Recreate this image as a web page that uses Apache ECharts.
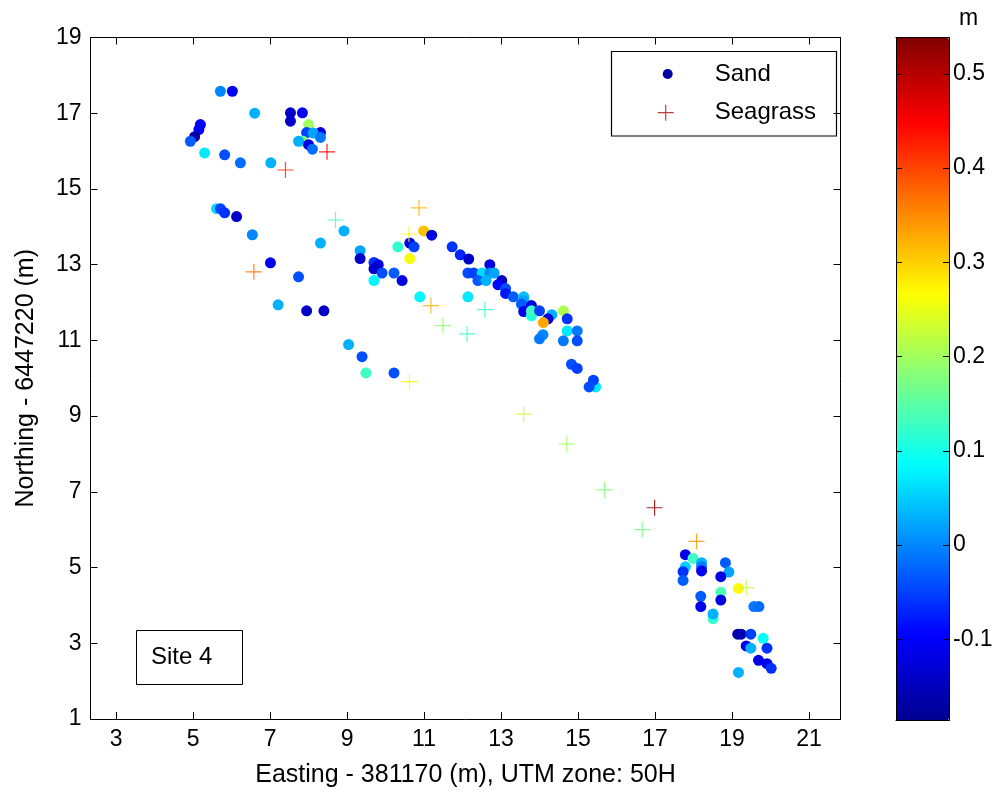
<!DOCTYPE html>
<html>
<head>
<meta charset="utf-8">
<title>Site 4</title>
<script src="https://cdn.jsdelivr.net/npm/echarts@6/dist/echarts.min.js"></script>
<style>
  html, body { margin: 0; padding: 0; background: #fff; }
  #chart { width: 1000px; height: 793px; }
</style>
</head>
<body>
<div id="chart"></div>
<script>
// Sand samples: easting, northing, height (m)
const sandX = [
  5.71, 6.02, 6.60, 5.19, 5.15, 5.04, 4.93, 5.30, 5.82, 6.23, 7.02, 7.53, 7.84, 7.53, 8.00, 8.31, 7.95, 8.12, 8.31, 7.86, 7.74, 8.00, 8.10,
  5.61, 5.71, 5.82, 6.13, 6.54, 8.92, 8.31, 7.01, 7.74, 7.21, 7.95, 8.40, 9.04, 9.39, 9.49, 10.22, 9.34, 9.34, 9.70, 9.81, 9.70, 9.91, 9.70, 10.22, 10.43, 10.32, 10.99, 11.20, 10.63, 10.74, 10.63, 10.89, 11.73, 11.94, 12.16, 12.14, 12.14,
  12.71, 12.29, 12.51, 12.71, 12.82, 12.40, 12.61, 13.02, 12.92, 13.12, 13.12, 13.32, 13.59, 13.59, 13.53, 13.59, 13.79, 13.79, 13.79, 14.00, 14.32, 14.22, 14.10, 14.62, 14.72, 14.72, 14.98, 14.09, 14.00, 14.62, 14.98, 14.83, 14.98, 15.46, 15.40, 15.29,
  17.79, 17.99, 18.21, 17.79, 18.21, 18.21, 17.73, 17.73, 18.83, 18.92, 18.71, 19.17, 18.71, 18.19, 18.71, 18.19, 19.57, 19.70, 18.51, 18.51, 19.15, 19.24, 19.49, 19.81, 19.37, 19.49, 19.91, 19.69, 19.91, 20.02, 19.17
];
const sandY = [
  17.58, 17.58, 17.00, 16.70, 16.57, 16.38, 16.26, 15.95, 15.90, 15.69, 15.69, 17.01, 17.01, 16.79, 16.70, 16.49, 16.49, 16.48, 16.36, 16.26, 16.26, 16.17, 16.05,
  14.48, 14.48, 14.37, 14.27, 13.79, 13.89, 13.57, 13.05, 12.68, 11.94, 11.78, 11.78, 10.89, 10.57, 10.14, 10.14, 13.37, 13.16, 13.06, 13.00, 12.89, 12.78, 12.58, 12.78, 12.58, 13.47, 13.89, 13.78, 13.57, 13.47, 13.16, 12.15, 13.47, 13.26, 13.15, 12.78, 12.15,
  13.00, 12.78, 12.78, 12.78, 12.78, 12.58, 12.58, 12.58, 12.47, 12.37, 12.24, 12.15, 12.15, 12.05, 11.96, 11.76, 11.65, 11.92, 11.78, 11.78, 11.68, 11.57, 11.47, 11.78, 11.57, 11.25, 11.25, 11.15, 11.04, 10.99, 10.99, 10.37, 10.26, 9.77, 9.95, 9.77,
  5.34, 5.24, 5.13, 5.02, 5.02, 4.91, 4.89, 4.66, 5.13, 4.88, 4.76, 4.45, 4.35, 4.24, 4.14, 3.97, 3.97, 3.97, 3.65, 3.77, 3.24, 3.24, 3.24, 3.13, 2.93, 2.87, 2.87, 2.55, 2.46, 2.34, 2.23
];
const sandV = [
  0.00, -0.10, 0.03, -0.10, -0.10, -0.17, -0.03, 0.07, -0.04, -0.02, 0.03, -0.14, -0.10, -0.14, 0.20, -0.12, -0.05, 0.02, -0.01, 0.17, 0.03, -0.12, -0.02,
  0.06, -0.05, -0.06, -0.14, 0.00, 0.03, 0.03, -0.11, -0.04, 0.03, -0.14, -0.14, 0.03, -0.04, 0.13, -0.04, 0.02, -0.14, -0.06, -0.12, -0.14, -0.04, 0.08, -0.03, -0.12, 0.12, 0.31, -0.12, -0.12, -0.05, 0.26, 0.08, -0.06, -0.07, -0.14, -0.04, 0.07,
  -0.12, -0.05, 0.06, 0.00, 0.02, -0.03, 0.03, -0.15, -0.09, -0.04, -0.08, -0.03, 0.04, 0.02, -0.03, -0.11, 0.11, -0.12, 0.13, -0.05, 0.03, -0.12, 0.33, 0.21, -0.06, 0.07, -0.01, 0.00, -0.01, -0.01, -0.04, -0.04, -0.05, 0.07, -0.05, -0.04,
  -0.11, 0.13, 0.03, 0.05, -0.01, -0.11, -0.06, -0.03, -0.03, 0.02, -0.12, 0.27, 0.14, -0.03, -0.12, -0.11, -0.01, -0.02, 0.12, 0.03, -0.16, -0.16, -0.05, 0.09, -0.11, 0.03, -0.06, -0.12, -0.11, -0.06, 0.03
];

// Seagrass samples
const grassX = [7.40, 8.48, 8.70, 6.58, 10.62, 10.87, 10.61, 11.18, 11.49, 12.12, 12.58, 13.59, 14.71, 15.69, 16.99, 16.67, 18.08, 19.37];
const grassY = [15.50, 15.98, 14.18, 12.81, 9.91, 14.50, 13.81, 11.92, 11.39, 11.17, 11.81, 9.05, 8.26, 7.05, 6.58, 6.00, 5.69, 4.47];
const grassV = [0.42, 0.45, 0.13, 0.37, 0.26, 0.32, 0.27, 0.32, 0.19, 0.12, 0.13, 0.23, 0.20, 0.18, 0.52, 0.17, 0.34, 0.22];

const xTicks = [3, 5, 7, 9, 11, 13, 15, 17, 19, 21];
const yTicks = [1, 3, 5, 7, 9, 11, 13, 15, 17, 19];
const cbTicks = [-0.1, 0, 0.1, 0.2, 0.3, 0.4, 0.5];
const cbMin = -0.186, cbMax = 0.5385;

const jet = ['#00008f', '#0000ff', '#0080ff', '#00ffff', '#80ff80', '#ffff00', '#ff8000', '#ff0000', '#800000'];
const FONT = 'Arial, "Liberation Sans", sans-serif';
const crossPath = 'path://M0,7.4h16v1.2h-16z M7.4,0h1.2v16h-1.2z';

const sandData = sandX.map((x, i) => [x, sandY[i], sandV[i]]);
const grassData = grassX.map((x, i) => [x, grassY[i], grassV[i]]);

function frameAxis(extra) {
  return Object.assign({
    type: 'value',
    axisLine: { show: true, onZero: false, lineStyle: { color: '#000', width: 1 } },
    axisTick: { show: false },
    axisLabel: { show: false },
    splitLine: { show: false },
    z: 10
  }, extra);
}

const grid = { left: 90.5, top: 37.5, width: 750, height: 681.5 };
const cbGrid = { left: 896, top: 37.5, width: 53, height: 683 };

const option = {
  animation: false,
  backgroundColor: '#fff',
  textStyle: { fontFamily: FONT },
  grid: [
    Object.assign({ show: false }, grid),
    Object.assign({ show: false }, cbGrid)
  ],
  xAxis: [
    frameAxis({
      gridIndex: 0, position: 'bottom', min: 2.335, max: 21.82,
      axisTick: { show: true, inside: true, length: 7, customValues: xTicks, lineStyle: { color: '#000' } },
      axisLabel: { show: true, customValues: xTicks, color: '#000', fontSize: 23, fontFamily: FONT, margin: 9 },
      name: 'Easting - 381170 (m), UTM zone: 50H', nameLocation: 'middle', nameGap: 44,
      nameTextStyle: { color: '#000', fontSize: 25, fontFamily: FONT }
    }),
    frameAxis({
      gridIndex: 0, position: 'top', min: 2.335, max: 21.82,
      axisTick: { show: true, inside: true, length: 7, customValues: xTicks, lineStyle: { color: '#000' } }
    }),
    frameAxis({ gridIndex: 1, position: 'bottom', min: 0, max: 1 }),
    frameAxis({ gridIndex: 1, position: 'top', min: 0, max: 1 })
  ],
  yAxis: [
    frameAxis({
      gridIndex: 0, position: 'left', min: 1, max: 19,
      axisTick: { show: true, inside: true, length: 7, customValues: yTicks, lineStyle: { color: '#000' } },
      axisLabel: { show: true, customValues: yTicks, color: '#000', fontSize: 23, fontFamily: FONT, margin: 9 },
      name: 'Northing - 6447220 (m)', nameLocation: 'middle', nameGap: 52, nameRotate: 90,
      nameTextStyle: { color: '#000', fontSize: 25, fontFamily: FONT }
    }),
    frameAxis({
      gridIndex: 0, position: 'right', min: 1, max: 19,
      axisTick: { show: true, inside: true, length: 7, customValues: yTicks, lineStyle: { color: '#000' } }
    }),
    frameAxis({
      gridIndex: 1, position: 'right', min: cbMin, max: cbMax,
      axisTick: { show: true, inside: true, length: 6, customValues: cbTicks, lineStyle: { color: '#000' } },
      axisLabel: { show: true, customValues: cbTicks, color: '#000', fontSize: 23, fontFamily: FONT, margin: 4 }
    }),
    frameAxis({
      gridIndex: 1, position: 'left', min: cbMin, max: cbMax,
      axisTick: { show: true, inside: true, length: 6, customValues: cbTicks, lineStyle: { color: '#000' } }
    })
  ],
  visualMap: {
    type: 'continuous',
    min: cbMin,
    max: cbMax,
    dimension: 2,
    seriesIndex: [0, 1],
    calculable: false,
    hoverLink: false,
    left: cbGrid.left,
    top: cbGrid.top,
    itemWidth: cbGrid.width,
    itemHeight: cbGrid.height,
    padding: 0,
    inRange: { color: jet }
  },
  legend: [
    {
      data: ['Sand'], orient: 'vertical', left: 662.7, top: 62, padding: 0,
      itemWidth: 10, itemHeight: 10, selectedMode: false,
      textStyle: { color: '#000', fontSize: 24, fontFamily: FONT, lineHeight: 24, padding: [0, 0, 0, 37] }
    },
    {
      data: ['Seagrass'], orient: 'vertical', left: 657.7, top: 100.7, padding: 0,
      itemWidth: 16, itemHeight: 16, selectedMode: false,
      textStyle: { color: '#000', fontSize: 24, fontFamily: FONT, lineHeight: 24, padding: [0, 0, 0, 36] }
    }
  ],
  graphic: [
    {
      type: 'rect', z: 5, silent: true,
      shape: { x: 611.5, y: 51.5, width: 225, height: 84.5 },
      style: { fill: 'none', stroke: '#000', lineWidth: 1.2 }
    },
    {
      type: 'rect', z: 5, silent: true,
      shape: { x: 136.5, y: 630.5, width: 106, height: 54 },
      style: { fill: '#fff', stroke: '#000', lineWidth: 1 }
    },
    {
      type: 'text', z: 6, left: 151, top: 645,
      style: { text: 'Site 4', fill: '#000', font: '24px ' + FONT }
    },
    {
      type: 'text', z: 6, left: 959, top: 7,
      style: { text: 'm', fill: '#000', font: '23px ' + FONT }
    }
  ],
  series: [
    {
      name: 'Sand',
      type: 'scatter',
      xAxisIndex: 0, yAxisIndex: 0,
      symbol: 'circle',
      symbolSize: 11,
      itemStyle: { color: '#00009f', opacity: 1 },
      data: sandData
    },
    {
      name: 'Seagrass',
      type: 'scatter',
      xAxisIndex: 0, yAxisIndex: 0,
      symbol: crossPath,
      symbolSize: 16,
      itemStyle: { color: '#b22222', opacity: 0.85 },
      data: grassData
    }
  ]
};

const chart = echarts.init(document.getElementById('chart'), null, { renderer: 'canvas' });
chart.setOption(option);
</script>
</body>
</html>
